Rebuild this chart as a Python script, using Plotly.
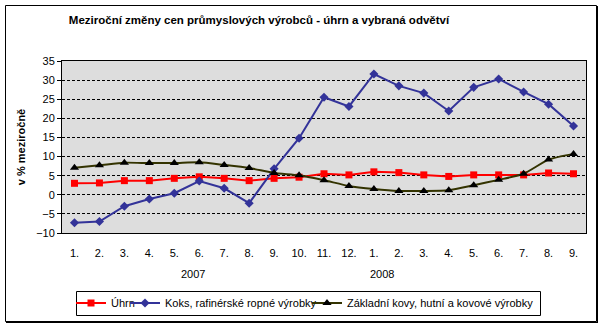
import plotly.graph_objects as go

# Month labels (Jan 2007 – Sep 2008)
months = ["1.", "2.", "3.", "4.", "5.", "6.", "7.", "8.", "9.", "10.", "11.", "12.",
          "1.", "2.", "3.", "4.", "5.", "6.", "7.", "8.", "9."]
years = ["2007", "2008"]

# Year-on-year change, %
uhrn = [3.0, 3.1, 3.7, 3.7, 4.3, 4.7, 4.3, 3.7, 4.3, 4.6, 5.5,
        5.2, 6.0, 5.8, 5.2, 4.8, 5.2, 5.2, 5.2, 5.7, 5.5]
koks = [-7.3, -7.0, -3.0, -1.1, 0.4, 3.6, 1.7, -2.2, 6.8, 14.8, 25.5,
        23.1, 31.6, 28.5, 26.6, 21.9, 28.1, 30.3, 26.9, 23.7, 18.0]
kovy = [7.1, 7.7, 8.4, 8.3, 8.3, 8.5, 7.8, 7.0, 5.7, 5.1, 3.8,
        2.3, 1.5, 1.0, 1.0, 1.2, 2.5, 3.9, 5.5, 9.2, 10.7]

names = ["Úhrn", "Koks, rafinérské ropné výrobky", "Základní kovy, hutní a kovové výrobky"]

x = list(range(len(months)))
FONT = "Liberation Sans, Arial, sans-serif"

W, H = 604, 327
L, R, T, B = 62, 586, 61, 233
pw, ph = R - L, B - T


def px(xp):
    return (xp - L) / pw


def py(yp):
    return (B - yp) / ph


fig = go.Figure()
fig.add_trace(go.Scatter(
    x=x, y=uhrn, name=names[0], mode="lines+markers", legend="legend",
    line=dict(color="#FF0000", width=2),
    marker=dict(symbol="square", size=7, color="#FF0000"),
))
fig.add_trace(go.Scatter(
    x=x, y=koks, name=names[1], mode="lines+markers", legend="legend2",
    line=dict(color="#333399", width=2),
    marker=dict(symbol="diamond", size=7, color="#333399"),
))
fig.add_trace(go.Scatter(
    x=x, y=kovy, name=names[2], mode="lines+markers", legend="legend3",
    line=dict(color="#333300", width=2, shape="spline", smoothing=0.6),
    marker=dict(symbol="triangle-up", size=8, color="#000000"),
))

shapes = [
    # outer chart frame with a heavier right/bottom edge
    dict(type="rect", xref="paper", yref="paper",
         x0=px(5.5), x1=px(596.5), y0=py(321.5), y1=py(5.5),
         line=dict(color="black", width=1), layer="above"),
    dict(type="line", xref="paper", yref="paper",
         x0=px(597.5), x1=px(597.5), y0=py(322.5), y1=py(6),
         line=dict(color="black", width=1)),
    dict(type="line", xref="paper", yref="paper",
         x0=px(6), x1=px(598), y0=py(322.5), y1=py(322.5),
         line=dict(color="black", width=1)),
    # legend box
    dict(type="rect", xref="paper", yref="paper",
         x0=px(76.5), x1=px(540.5), y0=py(315.5), y1=py(291.5),
         line=dict(color="black", width=1), layer="above"),
]

annotations = [
    dict(text=years[0], x=px(193), y=py(274), xref="paper", yref="paper",
         xanchor="center", yanchor="middle",
         showarrow=False, font=dict(family=FONT, size=11, color="black")),
    dict(text=years[1], x=px(382), y=py(274), xref="paper", yref="paper",
         xanchor="center", yanchor="middle",
         showarrow=False, font=dict(family=FONT, size=11, color="black")),
]


def leg(xpix):
    return dict(
        orientation="h", xref="container", yref="container",
        x=xpix / W, y=1 - 303 / H, xanchor="left", yanchor="middle",
        borderwidth=0, bgcolor="rgba(0,0,0,0)",
        font=dict(family=FONT, size=11, color="black"),
        itemwidth=30,
    )


fig.update_layout(
    width=W, height=H,
    margin=dict(l=L, r=W - R, t=T, b=H - B, pad=0, autoexpand=False),
    paper_bgcolor="white",
    plot_bgcolor="#DDDDDD",
    font=dict(family=FONT, size=11, color="black"),
    title=dict(
        text="<b>Meziroční změny cen průmyslových výrobců - úhrn a vybraná odvětví</b>",
        x=259 / W, xref="container", xanchor="center",
        y=1 - 20 / H, yref="container", yanchor="middle",
        font=dict(family=FONT, size=11.5, color="black"),
    ),
    xaxis=dict(
        range=[-0.5, len(months) - 0.5],
        tickmode="array", tickvals=x, ticktext=months,
        showgrid=False, zeroline=False,
        showline=True, linecolor="black", linewidth=1, mirror=True,
        ticks="", ticklabelstandoff=10,
        tickfont=dict(family=FONT, size=11),
    ),
    yaxis=dict(
        range=[-10, 35], dtick=5, tick0=0,
        showgrid=True, gridcolor="black", gridwidth=1, griddash="3px,2px",
        zeroline=False,
        showline=True, linecolor="black", linewidth=1, mirror=True,
        ticks="outside", ticklen=4, tickcolor="black",
        tickfont=dict(family=FONT, size=11),
        title=dict(text="<b>v % meziročně</b>", standoff=8,
                   font=dict(family=FONT, size=11)),
    ),
    showlegend=True,
    legend=leg(71),
    legend2=leg(125),
    legend3=leg(307),
    shapes=shapes,
    annotations=annotations,
)

fig.write_html("out.html")
